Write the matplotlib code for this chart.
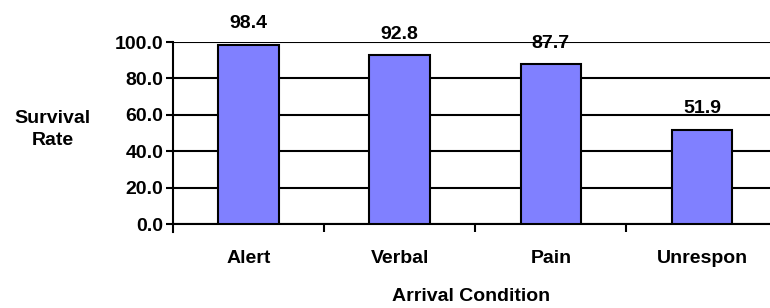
import numpy as np
import matplotlib.pyplot as plt

categories = ["Alert", "Verbal", "Pain", "Unrespon"]
survival = [98.4, 92.8, 87.7, 51.9]
y_ticks = [0, 20, 40, 60, 80, 100]

plt.rcParams["font.family"] = ["Liberation Sans", "DejaVu Sans"]
plt.rcParams["font.weight"] = "bold"

fig = plt.figure(figsize=(7.7, 3.08), dpi=100)
ax = fig.add_axes([0.2247, 0.2727, 0.7753, 0.5909])

x = np.arange(len(categories))
bars = ax.bar(x, survival, width=0.4, color="#8080FF", edgecolor="black",
              linewidth=1.5, zorder=3)

for b, v in zip(bars, survival):
    ax.annotate(f"{v:.1f}", (b.get_x() + b.get_width() / 2, v),
                xytext=(0, 9), textcoords="offset points",
                ha="center", va="bottom", fontsize=14, fontweight="bold",
                zorder=4)

ax.set_xlim(-0.5, len(categories) - 0.55)
ax.set_ylim(0, 100)
ax.set_yticks(y_ticks)
ax.set_yticklabels([f"{t:.1f}" for t in y_ticks])
ax.yaxis.grid(True, color="black", linewidth=1.5, zorder=0)

ax.set_xticks(x)
ax.set_xticklabels(categories)
ax.set_xticks(x[:-1] + 0.5, minor=True)
ax.tick_params(axis="x", which="major", length=0, pad=19, labelsize=14)
ax.tick_params(axis="x", which="minor", length=6, width=1.5, direction="out")
ax.tick_params(axis="y", length=5, width=1.5, labelsize=14, pad=2)

for s in ["top", "right"]:
    ax.spines[s].set_visible(False)
ax.spines["left"].set_linewidth(1.5)
ax.spines["bottom"].set_linewidth(1.5)
ax.spines["left"].set_bounds(-4.5, 100)

ax.set_xlabel("Arrival Condition", fontsize=14, fontweight="bold", labelpad=15)
fig.text(0.068, 0.58, "Survival\nRate", ha="center", va="center",
         fontsize=14, fontweight="bold", linespacing=1.4)

fig.savefig("out.png", dpi=100)
